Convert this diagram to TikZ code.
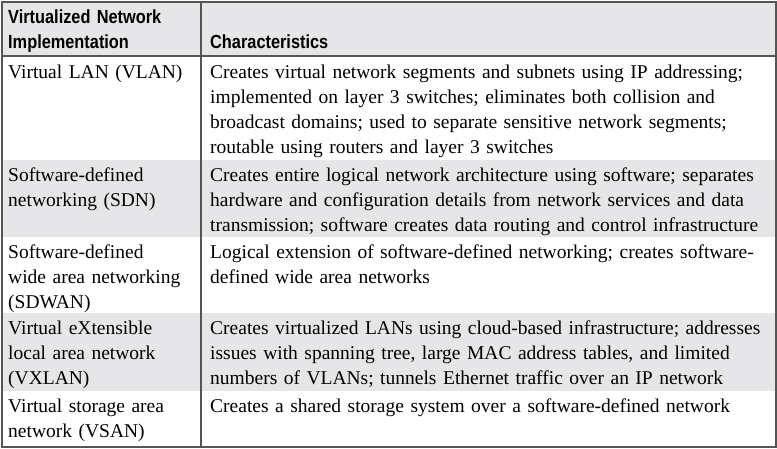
\documentclass[tikz,border=0pt]{standalone}
\usepackage{fontspec}
\setmainfont{Liberation Serif}
\newfontfamily\headfont[FakeStretch=0.86]{Liberation Sans}
\definecolor{rowgray}{HTML}{E6E6E8}
\definecolor{rulegray}{HTML}{555555}
\tikzset{
	cell/.style={anchor=base west, inner sep=0pt, align=left, font=\fontsize{19.5}{25}\selectfont},
	namecell/.style={cell, text width=190pt},
	textcell/.style={cell, text width=562pt},
	headcell/.style={cell, font=\headfont\bfseries\fontsize{19}{25}\selectfont}
}

\begin{document}
\begin{tikzpicture}[x=1pt, y=-1pt]
			%%%%% START %%%%%
			\useasboundingbox (0, 0) rectangle (777, 448);
			
			\fill[rowgray] (2, 2) rectangle (775, 56);
			\fill[rowgray] (2, 160) rectangle (775, 237);
			\fill[rowgray] (2, 313) rectangle (775, 391);
			
			\node[headcell, text width=190pt] (implhead) at (8, 23) {Virtualized Network\\Implementation};
			\node[headcell] (charhead) at (210, 48) {Characteristics};
			
			\node[namecell] (vlan) at (8, 78) {Virtual LAN (VLAN)};
			\node[textcell] (vlantext) at (210, 78) {Creates virtual network segments and subnets using IP addressing;\\implemented on layer 3 switches; eliminates both collision and\\broadcast domains; used to separate sensitive network segments;\\routable using routers and layer 3 switches};
			
			\node[namecell] (sdn) at (8, 181) {Software-defined\\networking (SDN)};
			\node[textcell] (sdntext) at (210, 181) {Creates entire logical network architecture using software; separates\\hardware and configuration details from network services and data\\transmission; software creates data routing and control infrastructure};
			
			\node[namecell] (sdwan) at (8, 258) {Software-defined\\wide area networking\\(SDWAN)};
			\node[textcell] (sdwantext) at (210, 258) {Logical extension of software-defined networking; creates software-\\defined wide area networks};
			
			\node[namecell] (vxlan) at (8, 334) {Virtual eXtensible\\local area network\\(VXLAN)};
			\node[textcell] (vxlantext) at (210, 334) {Creates virtualized LANs using cloud-based infrastructure; addresses\\issues with spanning tree, large MAC address tables, and limited\\numbers of VLANs; tunnels Ethernet traffic over an IP network};
			
			\node[namecell] (vsan) at (8, 412) {Virtual storage area\\network (VSAN)};
			\node[textcell] (vsantext) at (210, 412) {Creates a shared storage system over a software-defined network};
			
			\draw[rulegray, line width=1.5pt] (2, 56) -- (775, 56);
			\draw[rulegray, line width=1.5pt] (201, 2) -- (201, 446);
			\draw[rulegray, line width=2pt] (1.5, 1.5) rectangle (775.5, 446.5);
			%%%%% END %%%%%
\end{tikzpicture}
\end{document}
